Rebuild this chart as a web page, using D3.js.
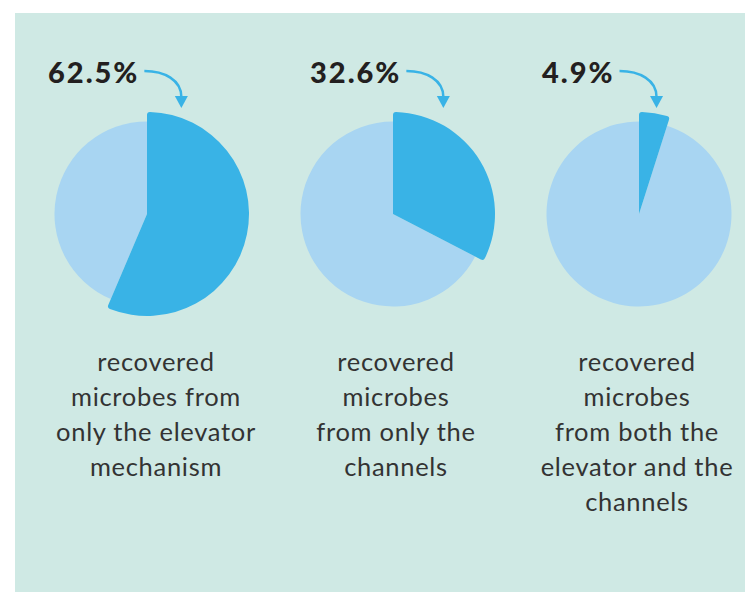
<!DOCTYPE html>
<html>
<head>
<meta charset="utf-8">
<script src="https://cdn.jsdelivr.net/npm/d3@7"></script>
<style>
  html, body { margin: 0; padding: 0; background: #fff; }
  svg { display: block; }
</style>
</head>
<body>
<script>
(function () {
  'use strict';

  // labels printed above each pie
  const pctLabels = ['62.5%', '32.6%', '4.9%'];
  // share of each pie highlighted, as drawn in the picture
  const shares = [56.4, 32.6, 4.9];
  // caption lines under each pie
  const captions = [
    ['recovered', 'microbes from', 'only the elevator', 'mechanism'],
    ['recovered', 'microbes', 'from only the', 'channels'],
    ['recovered', 'microbes', 'from both the', 'elevator and the', 'channels']
  ];

  const W = 745, H = 592;
  const centers = [147, 393, 639];   // pie centre x
  const captionX = [156, 396, 637];  // caption centre x
  const labelX = [48, 310, 542];     // left of % label
  const cy = 214;

  const svg = d3.select('body').append('svg')
    .attr('width', W)
    .attr('height', H);

  svg.append('rect')
    .attr('x', 15).attr('y', 13)
    .attr('width', W - 15).attr('height', H - 13)
    .attr('fill', '#cfe9e4');

  const pie = d3.pie().sort(null).value(d => d);
  const lightArc = d3.arc().innerRadius(0).outerRadius(92.5);
  const darkArc = d3.arc().innerRadius(0).outerRadius(102).cornerRadius(3);

  const cols = svg.selectAll('g.col')
    .data(shares)
    .enter()
    .append('g')
    .attr('class', 'col');

  cols.each(function (v, i) {
    const g = d3.select(this);
    const arcs = pie([v, 100 - v]);
    const p = g.append('g').attr('transform', `translate(${centers[i]},${cy})`);

    p.append('path')
      .attr('d', lightArc(arcs[1]))
      .attr('fill', '#a8d5f2');
    p.append('path')
      .attr('d', darkArc(arcs[0]))
      .attr('fill', '#39b3e6');

    // percentage label
    const t = g.append('text')
      .attr('x', labelX[i])
      .attr('y', 83)
      .attr('font-family', 'Lato, sans-serif')
      .attr('font-weight', 900)
      .attr('font-size', 29)
      .attr('letter-spacing', 2)
      .attr('fill', '#231f20')
      .text(pctLabels[i]);

    const x0 = labelX[i] + t.node().getComputedTextLength() + 5;
    const y0 = 71;
    const tx = x0 + 37;

    g.append('path')
      .attr('d', `M${x0},${y0} C${x0 + 20},${y0} ${tx},${y0 + 9} ${tx},${y0 + 26}`)
      .attr('fill', 'none')
      .attr('stroke', '#39b3e6')
      .attr('stroke-width', 2.5);
    g.append('path')
      .attr('d', `M${tx - 6.5},${y0 + 25} L${tx + 6.5},${y0 + 25} L${tx},${y0 + 37} Z`)
      .attr('fill', '#39b3e6');

    // caption
    g.append('text')
      .attr('text-anchor', 'middle')
      .attr('font-family', 'Lato, sans-serif')
      .attr('font-size', 25.5)
      .attr('letter-spacing', 0.7)
      .attr('fill', '#333')
      .selectAll('tspan')
      .data(captions[i])
      .enter()
      .append('tspan')
      .attr('x', captionX[i])
      .attr('y', (d, j) => 370.5 + j * 35)
      .text(d => d);
  });
})();
</script>
</body>
</html>
